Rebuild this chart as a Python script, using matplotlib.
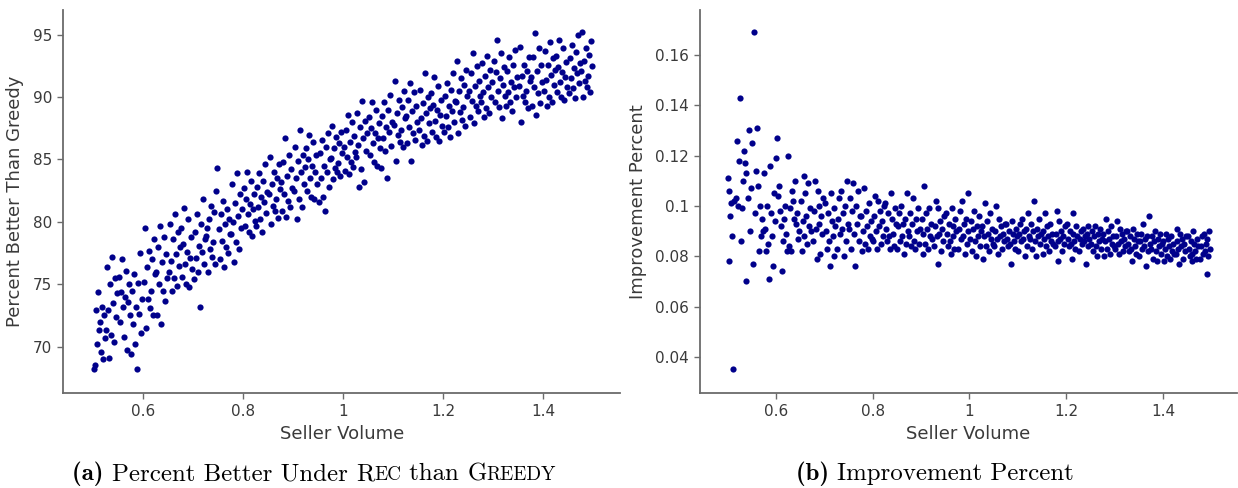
import matplotlib
matplotlib.use("Agg")
import matplotlib.pyplot as plt
from matplotlib.ticker import FuncFormatter
from matplotlib.offsetbox import TextArea, HPacker, AnnotationBbox

# (a) seller volume / percent better under REC than GREEDY
volume_a = [
    0.521, 0.519, 0.509, 0.523, 0.517, 0.501, 0.507, 0.513, 0.503, 0.505, 0.515, 0.511,
    0.534, 0.536, 0.538, 0.530, 0.532, 0.528, 0.546, 0.548, 0.542, 0.544, 0.526, 0.540,
    0.571, 0.553, 0.557, 0.569, 0.567, 0.565, 0.559, 0.555, 0.561, 0.551, 0.573, 0.563,
    0.578, 0.584, 0.594, 0.588, 0.592, 0.582, 0.580, 0.598, 0.576, 0.590, 0.596, 0.586,
    0.617, 0.613, 0.603, 0.601, 0.605, 0.621, 0.615, 0.607, 0.619, 0.611, 0.609, 0.623,
    0.646, 0.644, 0.634, 0.648, 0.636, 0.642, 0.632, 0.638, 0.628, 0.630, 0.640, 0.626,
    0.659, 0.661, 0.663, 0.655, 0.657, 0.653, 0.671, 0.673, 0.667, 0.669, 0.651, 0.665,
    0.696, 0.678, 0.682, 0.694, 0.692, 0.690, 0.684, 0.680, 0.686, 0.676, 0.698, 0.688,
    0.703, 0.709, 0.719, 0.717, 0.713, 0.707, 0.705, 0.723, 0.701, 0.715, 0.721, 0.711,
    0.748, 0.738, 0.742, 0.726, 0.730, 0.746, 0.740, 0.732, 0.744, 0.736, 0.734, 0.728,
    0.771, 0.769, 0.759, 0.773, 0.761, 0.767, 0.757, 0.763, 0.753, 0.755, 0.765, 0.751,
    0.784, 0.786, 0.788, 0.780, 0.782, 0.778, 0.796, 0.798, 0.792, 0.794, 0.776, 0.790,
    0.821, 0.803, 0.807, 0.819, 0.817, 0.815, 0.809, 0.805, 0.811, 0.801, 0.823, 0.813,
    0.828, 0.834, 0.844, 0.842, 0.838, 0.832, 0.830, 0.848, 0.826, 0.840, 0.846, 0.836,
    0.867, 0.863, 0.853, 0.851, 0.855, 0.871, 0.865, 0.857, 0.869, 0.861, 0.859, 0.873,
    0.896, 0.894, 0.884, 0.898, 0.886, 0.892, 0.882, 0.888, 0.878, 0.880, 0.890, 0.876,
    0.909, 0.911, 0.913, 0.905, 0.907, 0.903, 0.921, 0.923, 0.917, 0.919, 0.901, 0.915,
    0.946, 0.928, 0.932, 0.944, 0.942, 0.940, 0.934, 0.930, 0.936, 0.926, 0.948, 0.938,
    0.953, 0.959, 0.969, 0.967, 0.963, 0.957, 0.955, 0.973, 0.951, 0.965, 0.971, 0.961,
    0.992, 0.988, 0.978, 0.976, 0.980, 0.996, 0.990, 0.982, 0.994, 0.986, 0.984, 0.998,
    1.021, 1.019, 1.009, 1.023, 1.011, 1.017, 1.007, 1.013, 1.003, 1.005, 1.015, 1.001,
    1.034, 1.036, 1.038, 1.030, 1.032, 1.028, 1.046, 1.048, 1.042, 1.044, 1.026, 1.040,
    1.071, 1.053, 1.057, 1.069, 1.067, 1.065, 1.059, 1.055, 1.061, 1.051, 1.073, 1.063,
    1.078, 1.084, 1.094, 1.092, 1.088, 1.082, 1.080, 1.098, 1.076, 1.090, 1.096, 1.086,
    1.117, 1.113, 1.103, 1.101, 1.105, 1.121, 1.115, 1.107, 1.119, 1.111, 1.109, 1.123,
    1.146, 1.144, 1.134, 1.148, 1.136, 1.142, 1.132, 1.138, 1.128, 1.130, 1.140, 1.126,
    1.159, 1.161, 1.163, 1.155, 1.157, 1.153, 1.171, 1.173, 1.167, 1.169, 1.151, 1.165,
    1.196, 1.178, 1.182, 1.194, 1.192, 1.190, 1.184, 1.180, 1.186, 1.176, 1.198, 1.188,
    1.203, 1.209, 1.219, 1.217, 1.213, 1.207, 1.205, 1.223, 1.201, 1.215, 1.221, 1.211,
    1.242, 1.238, 1.228, 1.226, 1.230, 1.246, 1.240, 1.232, 1.244, 1.236, 1.234, 1.248,
    1.271, 1.269, 1.259, 1.273, 1.261, 1.267, 1.257, 1.263, 1.253, 1.255, 1.265, 1.251,
    1.284, 1.286, 1.288, 1.280, 1.282, 1.278, 1.296, 1.298, 1.292, 1.294, 1.276, 1.290,
    1.321, 1.303, 1.307, 1.319, 1.317, 1.315, 1.309, 1.305, 1.311, 1.301, 1.323, 1.313,
    1.328, 1.334, 1.344, 1.342, 1.338, 1.332, 1.330, 1.348, 1.326, 1.340, 1.346, 1.336,
    1.367, 1.363, 1.353, 1.351, 1.355, 1.371, 1.365, 1.357, 1.369, 1.361, 1.359, 1.373,
    1.396, 1.394, 1.384, 1.398, 1.386, 1.392, 1.382, 1.388, 1.378, 1.380, 1.390, 1.376,
    1.409, 1.411, 1.413, 1.405, 1.407, 1.403, 1.421, 1.423, 1.417, 1.419, 1.401, 1.415,
    1.446, 1.428, 1.432, 1.444, 1.442, 1.440, 1.434, 1.430, 1.436, 1.426, 1.448, 1.438,
    1.453, 1.459, 1.469, 1.467, 1.463, 1.457, 1.455, 1.473, 1.451, 1.465, 1.471, 1.461,
    1.492, 1.488, 1.478, 1.476, 1.480, 1.496, 1.490, 1.482, 1.494, 1.486, 1.484, 1.498,
]

better_than_greedy = [
    72.5, 69.0, 74.4, 70.7, 73.2, 68.2, 70.2, 72.0, 68.5, 72.9, 69.6, 71.3,
    75.0, 70.9, 77.2, 72.9, 69.1, 76.4, 72.4, 74.3, 70.4, 75.5, 71.3, 73.5,
    75.0, 72.0, 77.0, 73.6, 69.7, 76.1, 73.2, 74.4, 70.8, 75.6, 72.5, 74.0,
    74.5, 70.2, 77.5, 68.2, 72.6, 75.8, 71.8, 73.8, 69.4, 75.1, 71.1, 73.2,
    77.0, 73.1, 79.5, 75.2, 71.5, 78.6, 74.5, 76.4, 72.5, 77.7, 73.8, 75.8,
    77.4, 73.7, 79.7, 75.5, 71.8, 78.8, 75.0, 76.8, 72.5, 78.0, 74.5, 76.0,
    78.6, 75.5, 80.6, 76.9, 74.5, 79.8, 76.5, 78.0, 74.9, 79.2, 76.0, 77.4,
    78.8, 75.6, 81.1, 77.1, 74.8, 80.2, 76.6, 78.2, 75.0, 79.5, 76.2, 77.6,
    79.2, 76.0, 81.8, 77.6, 73.2, 80.6, 77.1, 78.6, 75.4, 79.8, 76.6, 78.1,
    84.3, 77.2, 80.8, 78.9, 76.0, 82.5, 78.4, 80.2, 76.6, 81.3, 77.8, 79.5,
    80.2, 77.5, 81.7, 79.0, 76.4, 81.0, 78.5, 79.8, 77.0, 80.6, 78.0, 79.4,
    81.5, 78.4, 83.9, 80.0, 76.8, 83.0, 79.5, 81.0, 77.8, 82.2, 79.0, 80.5,
    82.2, 79.7, 84.0, 81.0, 78.9, 83.3, 80.6, 81.8, 79.2, 82.7, 80.1, 81.4,
    82.8, 80.2, 84.6, 81.6, 79.2, 83.9, 81.2, 82.4, 79.7, 83.3, 80.7, 82.0,
    83.5, 80.9, 85.2, 82.2, 79.8, 84.6, 81.8, 83.0, 80.3, 84.0, 81.3, 82.6,
    84.2, 81.2, 86.7, 82.7, 80.4, 85.4, 82.2, 83.7, 80.9, 84.8, 81.7, 83.2,
    84.9, 81.8, 87.4, 83.5, 80.2, 86.0, 83.0, 84.4, 81.2, 85.4, 82.5, 84.0,
    85.4, 82.5, 87.0, 84.0, 81.8, 86.4, 83.5, 85.0, 82.0, 85.9, 83.0, 84.5,
    85.5, 82.0, 87.1, 84.0, 80.9, 86.6, 83.5, 85.0, 81.6, 86.0, 82.8, 84.5,
    86.3, 84.0, 87.7, 85.1, 83.4, 87.2, 84.7, 85.9, 83.7, 86.8, 84.3, 85.5,
    86.9, 84.4, 88.6, 85.6, 83.8, 88.0, 85.2, 86.4, 84.1, 87.4, 84.8, 86.0,
    87.6, 84.2, 89.7, 86.2, 82.8, 88.7, 85.7, 87.1, 83.2, 88.1, 85.2, 86.7,
    87.9, 85.4, 89.6, 86.7, 84.5, 89.0, 86.3, 87.5, 84.8, 88.4, 85.9, 87.1,
    88.5, 85.7, 90.2, 87.2, 83.5, 89.6, 86.7, 88.0, 84.3, 89.0, 86.1, 87.6,
    89.2, 86.4, 91.3, 87.8, 84.9, 90.5, 87.4, 88.7, 86.0, 89.8, 87.0, 88.3,
    89.3, 86.6, 91.1, 88.0, 84.9, 90.4, 87.6, 88.9, 86.3, 89.8, 87.1, 88.5,
    89.5, 86.9, 91.9, 88.3, 86.2, 90.6, 87.9, 89.1, 86.5, 90.0, 87.4, 88.7,
    89.8, 87.2, 91.6, 88.6, 86.5, 90.9, 88.1, 89.4, 86.8, 90.3, 87.7, 89.0,
    90.1, 87.6, 91.9, 88.9, 86.8, 91.1, 88.5, 89.7, 87.2, 90.6, 88.0, 89.3,
    91.0, 88.2, 92.9, 89.6, 87.1, 92.2, 89.2, 90.5, 87.7, 91.5, 88.8, 90.1,
    91.3, 88.9, 93.5, 90.1, 87.9, 92.5, 89.7, 90.9, 88.4, 91.9, 89.3, 90.5,
    91.7, 89.1, 93.3, 90.4, 88.4, 92.7, 90.0, 91.2, 88.7, 92.2, 89.6, 90.8,
    92.4, 89.6, 94.6, 91.0, 88.3, 93.5, 90.5, 92.0, 89.2, 92.9, 90.1, 91.5,
    92.1, 89.6, 93.8, 90.8, 88.9, 93.2, 90.4, 91.6, 89.3, 92.6, 90.0, 91.2,
    92.1, 89.6, 94.0, 90.9, 88.0, 93.2, 90.5, 91.7, 89.1, 92.6, 90.1, 91.3,
    92.6, 89.5, 95.1, 91.2, 88.6, 93.9, 90.8, 92.1, 89.3, 93.2, 90.3, 91.6,
    92.6, 90.0, 94.4, 91.4, 89.3, 93.7, 91.0, 92.2, 89.6, 93.1, 90.5, 91.8,
    92.8, 90.4, 94.6, 91.6, 89.8, 93.9, 91.2, 92.4, 90.0, 93.3, 90.8, 92.0,
    93.1, 90.7, 95.0, 91.9, 89.9, 94.2, 91.5, 92.7, 90.3, 93.6, 91.1, 92.3,
    93.4, 90.8, 95.2, 92.1, 90.0, 94.5, 91.7, 92.9, 90.4, 93.9, 91.3, 92.5,
]

# (b) seller volume / improvement percent
volume_b = [
    0.501, 0.503, 0.502, 0.507, 0.509, 0.513, 0.511, 0.517, 0.521, 0.519, 0.505, 0.523,
    0.526, 0.530, 0.534, 0.528, 0.538, 0.542, 0.532, 0.546, 0.544, 0.538, 0.536, 0.548,
    0.551, 0.565, 0.555, 0.571, 0.559, 0.561, 0.553, 0.567, 0.573, 0.563, 0.569, 0.557,
    0.598, 0.594, 0.576, 0.584, 0.582, 0.586, 0.578, 0.588, 0.580, 0.590, 0.592, 0.596,
    0.609, 0.617, 0.601, 0.621, 0.605, 0.613, 0.603, 0.623, 0.615, 0.619, 0.611, 0.607,
    0.636, 0.644, 0.628, 0.640, 0.648, 0.625, 0.632, 0.638, 0.646, 0.630, 0.642, 0.634,
    0.663, 0.665, 0.667, 0.673, 0.651, 0.653, 0.655, 0.657, 0.659, 0.671, 0.669, 0.661,
    0.694, 0.692, 0.686, 0.696, 0.690, 0.684, 0.688, 0.680, 0.676, 0.678, 0.682, 0.698,
    0.723, 0.719, 0.701, 0.709, 0.707, 0.711, 0.703, 0.713, 0.705, 0.715, 0.717, 0.721,
    0.728, 0.726, 0.734, 0.732, 0.742, 0.740, 0.748, 0.746, 0.744, 0.738, 0.736, 0.730,
    0.773, 0.755, 0.769, 0.761, 0.765, 0.763, 0.767, 0.759, 0.771, 0.757, 0.751, 0.753,
    0.788, 0.790, 0.792, 0.798, 0.776, 0.778, 0.780, 0.782, 0.784, 0.796, 0.794, 0.786,
    0.819, 0.817, 0.811, 0.821, 0.815, 0.809, 0.813, 0.805, 0.801, 0.803, 0.807, 0.823,
    0.848, 0.844, 0.826, 0.834, 0.832, 0.836, 0.828, 0.838, 0.830, 0.840, 0.842, 0.846,
    0.853, 0.851, 0.859, 0.857, 0.867, 0.865, 0.873, 0.871, 0.869, 0.863, 0.861, 0.855,
    0.898, 0.880, 0.894, 0.886, 0.890, 0.888, 0.892, 0.884, 0.896, 0.882, 0.876, 0.878,
    0.913, 0.915, 0.917, 0.923, 0.901, 0.903, 0.905, 0.907, 0.909, 0.921, 0.919, 0.911,
    0.944, 0.942, 0.936, 0.946, 0.940, 0.934, 0.938, 0.930, 0.926, 0.928, 0.932, 0.948,
    0.973, 0.969, 0.951, 0.959, 0.957, 0.961, 0.953, 0.963, 0.955, 0.965, 0.967, 0.971,
    0.978, 0.976, 0.984, 0.982, 0.992, 0.990, 0.998, 0.996, 0.994, 0.988, 0.986, 0.980,
    1.023, 1.005, 1.019, 1.011, 1.015, 1.013, 1.017, 1.009, 1.021, 1.007, 1.001, 1.003,
    1.038, 1.040, 1.042, 1.048, 1.026, 1.028, 1.030, 1.032, 1.034, 1.046, 1.044, 1.036,
    1.069, 1.067, 1.061, 1.071, 1.065, 1.059, 1.063, 1.055, 1.051, 1.053, 1.057, 1.073,
    1.098, 1.094, 1.076, 1.084, 1.082, 1.086, 1.078, 1.088, 1.080, 1.090, 1.092, 1.096,
    1.103, 1.101, 1.109, 1.107, 1.117, 1.115, 1.123, 1.121, 1.119, 1.113, 1.111, 1.105,
    1.148, 1.130, 1.144, 1.136, 1.140, 1.138, 1.142, 1.134, 1.146, 1.132, 1.126, 1.128,
    1.163, 1.165, 1.167, 1.173, 1.151, 1.153, 1.155, 1.157, 1.159, 1.171, 1.169, 1.161,
    1.194, 1.192, 1.186, 1.196, 1.190, 1.184, 1.188, 1.180, 1.176, 1.178, 1.182, 1.198,
    1.223, 1.219, 1.201, 1.209, 1.207, 1.211, 1.203, 1.213, 1.205, 1.215, 1.217, 1.221,
    1.228, 1.226, 1.234, 1.232, 1.242, 1.240, 1.248, 1.246, 1.244, 1.238, 1.236, 1.230,
    1.273, 1.255, 1.269, 1.261, 1.265, 1.263, 1.267, 1.259, 1.271, 1.257, 1.251, 1.253,
    1.288, 1.290, 1.292, 1.298, 1.276, 1.278, 1.280, 1.282, 1.284, 1.296, 1.294, 1.286,
    1.319, 1.317, 1.311, 1.321, 1.315, 1.309, 1.313, 1.305, 1.301, 1.303, 1.307, 1.323,
    1.348, 1.344, 1.326, 1.334, 1.332, 1.336, 1.328, 1.338, 1.330, 1.340, 1.342, 1.346,
    1.353, 1.351, 1.359, 1.357, 1.367, 1.365, 1.373, 1.371, 1.369, 1.363, 1.361, 1.355,
    1.398, 1.380, 1.394, 1.386, 1.390, 1.388, 1.392, 1.384, 1.396, 1.382, 1.376, 1.378,
    1.413, 1.415, 1.417, 1.423, 1.401, 1.403, 1.405, 1.407, 1.409, 1.421, 1.419, 1.411,
    1.444, 1.442, 1.436, 1.446, 1.440, 1.434, 1.438, 1.430, 1.426, 1.428, 1.432, 1.448,
    1.473, 1.469, 1.451, 1.459, 1.457, 1.461, 1.453, 1.463, 1.455, 1.465, 1.467, 1.471,
    1.478, 1.476, 1.484, 1.482, 1.492, 1.490, 1.498, 1.496, 1.494, 1.488, 1.486, 1.480,
]

improvement = [
    0.111, 0.078, 0.106, 0.101, 0.088, 0.102, 0.035, 0.103, 0.100, 0.126, 0.096, 0.118,
    0.143, 0.099, 0.122, 0.086, 0.113, 0.103, 0.110, 0.090, 0.130, 0.070, 0.117, 0.107,
    0.125, 0.082, 0.169, 0.095, 0.114, 0.131, 0.077, 0.100, 0.090, 0.108, 0.088, 0.097,
    0.094, 0.076, 0.113, 0.085, 0.100, 0.071, 0.091, 0.116, 0.082, 0.097, 0.088, 0.105,
    0.098, 0.095, 0.119, 0.089, 0.104, 0.074, 0.127, 0.082, 0.086, 0.100, 0.092, 0.108,
    0.102, 0.097, 0.084, 0.110, 0.090, 0.120, 0.082, 0.095, 0.087, 0.099, 0.093, 0.106,
    0.096, 0.085, 0.109, 0.090, 0.102, 0.082, 0.094, 0.112, 0.088, 0.099, 0.092, 0.105,
    0.096, 0.081, 0.106, 0.089, 0.100, 0.079, 0.093, 0.110, 0.086, 0.098, 0.091, 0.103,
    0.092, 0.080, 0.101, 0.086, 0.097, 0.076, 0.090, 0.105, 0.083, 0.094, 0.088, 0.099,
    0.095, 0.083, 0.106, 0.089, 0.100, 0.080, 0.093, 0.110, 0.086, 0.097, 0.091, 0.103,
    0.096, 0.083, 0.106, 0.089, 0.100, 0.076, 0.093, 0.109, 0.086, 0.098, 0.091, 0.103,
    0.092, 0.083, 0.101, 0.087, 0.096, 0.082, 0.090, 0.107, 0.085, 0.094, 0.088, 0.098,
    0.094, 0.085, 0.102, 0.088, 0.098, 0.083, 0.092, 0.104, 0.086, 0.096, 0.090, 0.100,
    0.093, 0.084, 0.101, 0.088, 0.097, 0.083, 0.091, 0.105, 0.086, 0.095, 0.089, 0.099,
    0.092, 0.083, 0.100, 0.086, 0.095, 0.081, 0.090, 0.105, 0.085, 0.093, 0.088, 0.097,
    0.091, 0.084, 0.099, 0.086, 0.095, 0.083, 0.090, 0.103, 0.085, 0.093, 0.088, 0.097,
    0.091, 0.083, 0.099, 0.087, 0.095, 0.081, 0.089, 0.108, 0.085, 0.093, 0.088, 0.097,
    0.091, 0.082, 0.099, 0.086, 0.094, 0.077, 0.089, 0.102, 0.084, 0.092, 0.088, 0.096,
    0.090, 0.083, 0.097, 0.086, 0.093, 0.081, 0.089, 0.099, 0.084, 0.092, 0.088, 0.095,
    0.091, 0.083, 0.102, 0.087, 0.095, 0.081, 0.090, 0.105, 0.085, 0.093, 0.088, 0.098,
    0.090, 0.082, 0.096, 0.086, 0.092, 0.080, 0.088, 0.098, 0.084, 0.091, 0.087, 0.094,
    0.089, 0.082, 0.097, 0.085, 0.092, 0.079, 0.088, 0.101, 0.084, 0.091, 0.087, 0.094,
    0.089, 0.083, 0.095, 0.086, 0.092, 0.081, 0.088, 0.100, 0.084, 0.090, 0.087, 0.093,
    0.088, 0.083, 0.093, 0.085, 0.090, 0.077, 0.087, 0.094, 0.084, 0.089, 0.086, 0.091,
    0.089, 0.082, 0.095, 0.086, 0.091, 0.080, 0.088, 0.097, 0.084, 0.090, 0.087, 0.093,
    0.089, 0.083, 0.095, 0.086, 0.091, 0.080, 0.088, 0.102, 0.085, 0.090, 0.087, 0.093,
    0.088, 0.082, 0.093, 0.085, 0.090, 0.081, 0.087, 0.097, 0.084, 0.089, 0.086, 0.092,
    0.088, 0.082, 0.094, 0.085, 0.090, 0.078, 0.087, 0.098, 0.084, 0.089, 0.086, 0.092,
    0.088, 0.083, 0.093, 0.085, 0.090, 0.079, 0.087, 0.097, 0.084, 0.089, 0.086, 0.092,
    0.087, 0.082, 0.091, 0.085, 0.089, 0.077, 0.087, 0.092, 0.084, 0.088, 0.086, 0.090,
    0.087, 0.082, 0.091, 0.084, 0.089, 0.080, 0.086, 0.092, 0.083, 0.088, 0.085, 0.090,
    0.087, 0.081, 0.092, 0.084, 0.089, 0.080, 0.086, 0.095, 0.083, 0.088, 0.085, 0.090,
    0.087, 0.082, 0.091, 0.084, 0.089, 0.081, 0.086, 0.094, 0.083, 0.088, 0.085, 0.090,
    0.086, 0.081, 0.090, 0.083, 0.088, 0.078, 0.085, 0.091, 0.082, 0.087, 0.084, 0.089,
    0.086, 0.080, 0.093, 0.083, 0.088, 0.076, 0.085, 0.096, 0.082, 0.087, 0.084, 0.089,
    0.085, 0.079, 0.089, 0.082, 0.087, 0.078, 0.084, 0.090, 0.081, 0.086, 0.083, 0.088,
    0.084, 0.079, 0.088, 0.081, 0.086, 0.078, 0.083, 0.089, 0.080, 0.085, 0.082, 0.087,
    0.085, 0.079, 0.089, 0.082, 0.087, 0.077, 0.084, 0.091, 0.081, 0.086, 0.083, 0.088,
    0.084, 0.079, 0.088, 0.081, 0.086, 0.078, 0.083, 0.090, 0.080, 0.085, 0.082, 0.087,
    0.084, 0.079, 0.089, 0.081, 0.087, 0.073, 0.083, 0.090, 0.080, 0.085, 0.082, 0.088,
]

x_ticks = [0.6, 0.8, 1.0, 1.2, 1.4]
ticks_a = [70, 75, 80, 85, 90, 95]
ticks_b = [0.04, 0.06, 0.08, 0.1, 0.12, 0.14, 0.16]

DOT = "#00008b"
AXIS_GREY = "#6b6b6b"
TEXT_GREY = "#3a3a3a"

plt.rcParams["font.family"] = ["DejaVu Sans"]


def style_axes(ax):
    for side in ("top", "right"):
        ax.spines[side].set_visible(False)
    for side in ("left", "bottom"):
        ax.spines[side].set_color(AXIS_GREY)
        ax.spines[side].set_linewidth(1.3)
    ax.tick_params(direction="out", length=4, width=1, color=AXIS_GREY,
                   labelcolor=TEXT_GREY, labelsize=11, pad=4)
    ax.xaxis.set_major_formatter(FuncFormatter(lambda v, _: f"{v:g}"))
    ax.yaxis.set_major_formatter(FuncFormatter(lambda v, _: f"{v:g}"))
    ax.set_xlabel("Seller Volume", fontsize=13, color=TEXT_GREY, labelpad=4)


def caption(fig, x, y, pieces):
    # pieces: (text, size, bold) so that small caps can be faked
    boxes = []
    for text, size, bold in pieces:
        fam = "cmb10" if bold else "cmr10"
        boxes.append(TextArea(text, textprops=dict(fontfamily=fam, fontsize=size, color="black")))
    pack = HPacker(children=boxes, align="baseline", pad=0, sep=0)
    ab = AnnotationBbox(pack, (x, y), xycoords="figure fraction", frameon=False,
                        box_alignment=(0.5, 0.0), pad=0)
    fig.add_artist(ab)


fig = plt.figure(figsize=(12.38, 4.88), dpi=100)
ax_a = fig.add_axes([0.051, 0.195, 0.450, 0.785])
ax_b = fig.add_axes([0.5654, 0.195, 0.4338, 0.785])

ax_a.scatter(volume_a, better_than_greedy, s=20, color=DOT, linewidths=0, zorder=3)
ax_a.set_xlim(0.44, 1.554)
ax_a.set_ylim(66.3, 97.0)
ax_a.set_xticks(x_ticks)
ax_a.set_yticks(ticks_a)
ax_a.set_ylabel("Percent Better Than Greedy", fontsize=13, color=TEXT_GREY, labelpad=6)
style_axes(ax_a)

ax_b.scatter(volume_b, improvement, s=20, color=DOT, linewidths=0, zorder=3)
ax_b.set_xlim(0.443, 1.553)
ax_b.set_ylim(0.0257, 0.178)
ax_b.set_xticks(x_ticks)
ax_b.set_yticks(ticks_b)
ax_b.set_ylabel("Improvement Percent", fontsize=13, color=TEXT_GREY, labelpad=6)
style_axes(ax_b)

S, SC = 17.9, 13.8
caption(fig, 314 / 1238, 0.004, [("(a) ", S, True), ("Percent Better Under ", S, False),
                                 ("R", S, False), ("EC", SC, False), (" than ", S, False),
                                 ("G", S, False), ("REEDY", SC, False)])
caption(fig, 935 / 1238, 0.004, [("(b) ", S, True), ("Improvement Percent", S, False)])

fig.savefig("out.png", dpi=100)
